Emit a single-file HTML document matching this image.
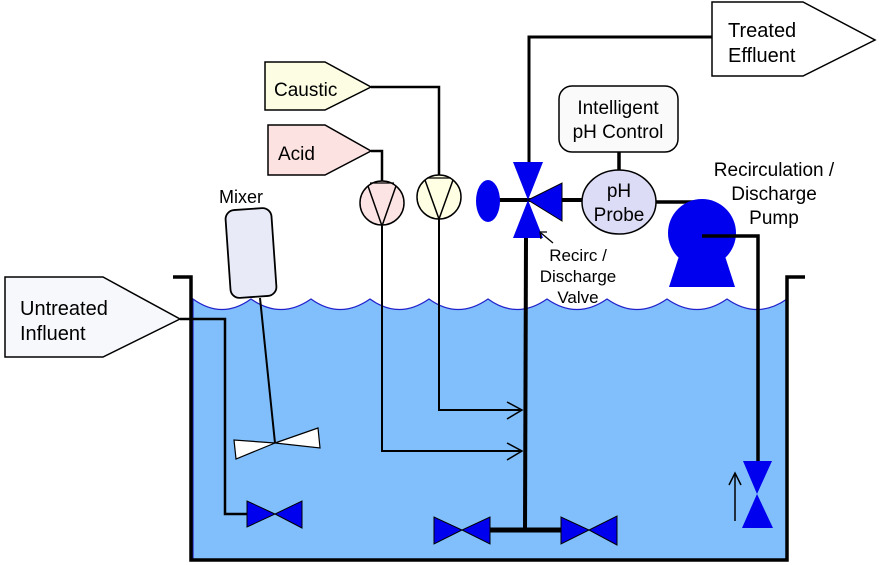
<!DOCTYPE html>
<html><head><style>body{margin:0;background:#fff}svg{display:block}text{font-family:"Liberation Sans",sans-serif;fill:#000}</style></head><body>
<svg width="879" height="565" viewBox="0 0 879 565" xmlns="http://www.w3.org/2000/svg">
<path d="M193,299 Q222,320 251,299 Q281,320 311,299 Q340,320 370,299 Q399,320 429,299 Q458,320 488,299 Q517,320 547,299 Q577,320 607,299 Q637,320 667,299 Q697,320 727,299 Q757,320 787,299 L787,560 L193,560 Z" fill="#80bffb" stroke="#2222cc" stroke-width="1.2"/>
<path d="M173,277 L191,277 L191,560 L787,560 L787,277 L805,277" fill="none" stroke="#000" stroke-width="3.5"/>
<polygon points="5,277 103,277 180,319 103,357 5,357" fill="#f7f8fc" stroke="#000" stroke-width="1.5"/>
<text x="20" y="315" font-size="20">Untreated</text>
<text x="20" y="340" font-size="20">Influent</text>
<polyline points="180,319 225,319 225,514 248,514" fill="none" stroke="#000" stroke-width="2.5"/>
<polygon points="247,501 247,527 275,514" fill="#0000ee" stroke="#000" stroke-width="1"/>
<polygon points="302,501 302,528 275,514" fill="#0000ee" stroke="#000" stroke-width="1"/>
<text x="219" y="203" font-size="18">Mixer</text>
<rect x="228" y="209" width="46" height="88" rx="9" fill="#e8eaf8" stroke="#000" stroke-width="1.8" transform="rotate(-4 251 253)"/>
<line x1="260" y1="298" x2="275" y2="443" stroke="#000" stroke-width="2"/>
<polygon points="234,440 236,459 275,443" fill="#fff" stroke="#000" stroke-width="1.2"/>
<polygon points="275,443 318,428 320,448" fill="#fff" stroke="#000" stroke-width="1.2"/>
<polygon points="265,62 325,62 371,87 325,110 265,110" fill="#fdfde4" stroke="#000" stroke-width="1.5"/>
<text x="274" y="96" font-size="19">Caustic</text>
<polyline points="371,87 439,87 439,176" fill="none" stroke="#000" stroke-width="2.5"/>
<circle cx="439" cy="197" r="22" fill="#ffffe4" stroke="#000" stroke-width="1.5"/>
<polyline points="425,180 439,219 453,180" fill="none" stroke="#000" stroke-width="1.5"/>
<line x1="427" y1="178" x2="451" y2="178" stroke="#000" stroke-width="1.2"/>
<polyline points="439,219 439,410 522,410" fill="none" stroke="#000" stroke-width="2"/>
<polyline points="507,402 522,410 507,419" fill="none" stroke="#000" stroke-width="1.5"/>
<polygon points="268,125 325,125 371,151 325,175 268,175" fill="#fde2e2" stroke="#000" stroke-width="1.5"/>
<text x="278" y="160" font-size="19">Acid</text>
<polyline points="371,151 382,151 382,181" fill="none" stroke="#000" stroke-width="2.5"/>
<circle cx="382" cy="203" r="22" fill="#fde4e4" stroke="#000" stroke-width="1.5"/>
<polyline points="368,186 382,226 396,186" fill="none" stroke="#000" stroke-width="1.5"/>
<line x1="370" y1="183" x2="394" y2="183" stroke="#000" stroke-width="1.2"/>
<polyline points="382,226 382,451 522,451" fill="none" stroke="#000" stroke-width="2"/>
<polyline points="507,443 522,451 507,460" fill="none" stroke="#000" stroke-width="1.5"/>
<polyline points="712,37 529,37 529,162" fill="none" stroke="#000" stroke-width="3"/>
<line x1="526" y1="238" x2="525" y2="530" stroke="#000" stroke-width="4"/>
<line x1="488" y1="530" x2="563" y2="530" stroke="#000" stroke-width="5"/>
<polygon points="434,517 434,544 462,530" fill="#0000ee" stroke="#000" stroke-width="1"/>
<polygon points="490,517 490,544 462,530" fill="#0000ee" stroke="#000" stroke-width="1"/>
<polygon points="561,517 561,544 589,530" fill="#0000ee" stroke="#000" stroke-width="1"/>
<polygon points="617,516 617,545 589,530" fill="#0000ee" stroke="#000" stroke-width="1"/>
<polygon points="712,2 803,2 875,40 803,76 712,76" fill="#fff" stroke="#000" stroke-width="1.5"/>
<text x="728" y="37" font-size="20">Treated</text>
<text x="728" y="62" font-size="20">Effluent</text>
<line x1="495" y1="200" x2="582" y2="200" stroke="#000" stroke-width="4"/>
<ellipse cx="488" cy="201" rx="12" ry="21" fill="#0000ee"/>
<polygon points="513,162 543,162 528,200" fill="#0000ee"/>
<polygon points="513,238 543,238 528,200" fill="#0000ee"/>
<polygon points="528,200 562,183 562,221" fill="#0000ee" stroke="#000" stroke-width="1"/>
<line x1="553" y1="243" x2="541" y2="233" stroke="#000" stroke-width="1.3"/>
<polyline points="541,239 540,232 547,232" fill="none" stroke="#000" stroke-width="1.3"/>
<text x="578" y="261" font-size="17" text-anchor="middle">Recirc /</text>
<text x="578" y="282" font-size="17" text-anchor="middle">Discharge</text>
<text x="578" y="303" font-size="17" text-anchor="middle">Valve</text>
<rect x="559" y="86" width="119" height="66" rx="13" fill="#fafafa" stroke="#000" stroke-width="1.5"/>
<text x="618" y="114" font-size="19" text-anchor="middle">Intelligent</text>
<text x="618" y="138" font-size="19" text-anchor="middle">pH Control</text>
<line x1="619" y1="152" x2="619" y2="170" stroke="#000" stroke-width="3.5"/>
<line x1="656" y1="202" x2="697" y2="202" stroke="#000" stroke-width="3.5"/>
<ellipse cx="619" cy="202" rx="37" ry="32" fill="#dcdcf6" stroke="#000" stroke-width="1.5"/>
<text x="619" y="197" font-size="19" text-anchor="middle">pH</text>
<text x="619" y="221" font-size="19" text-anchor="middle">Probe</text>
<polygon points="681,250 723,250 735,287 669,287" fill="#0000ee"/>
<circle cx="702" cy="233" r="34" fill="#0000ee"/>
<polyline points="702,236 758,236 758,462" fill="none" stroke="#000" stroke-width="3.5"/>
<polygon points="743,461 772,461 757,494" fill="#0000ee"/>
<polygon points="742,528 773,528 757,494" fill="#0000ee"/>
<line x1="735" y1="521" x2="735" y2="474" stroke="#000" stroke-width="1.5"/>
<polyline points="729,485 735,473 741,485" fill="none" stroke="#000" stroke-width="1.5"/>
<text x="774" y="176" font-size="19" text-anchor="middle">Recirculation /</text>
<text x="774" y="200" font-size="19" text-anchor="middle">Discharge</text>
<text x="774" y="224" font-size="19" text-anchor="middle">Pump</text>
</svg>
</body></html>
